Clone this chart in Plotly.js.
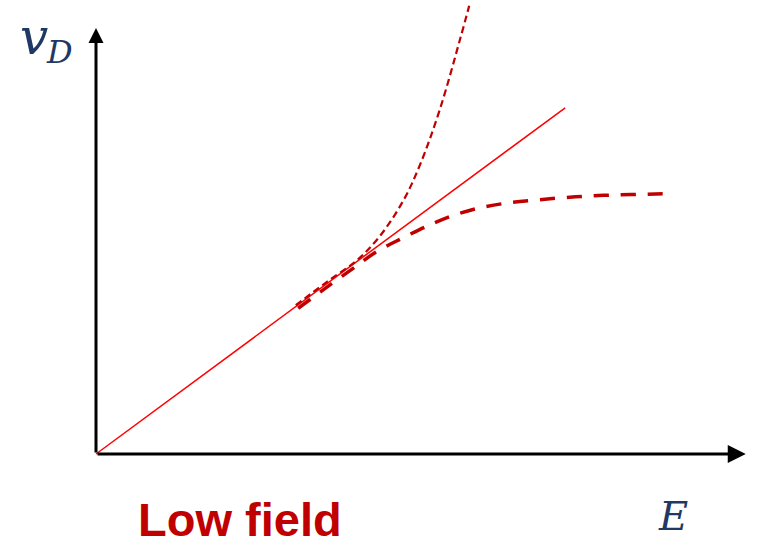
<!DOCTYPE html>
<html><head><meta charset="utf-8">
<script src="https://cdn.plot.ly/plotly-3.0.1.min.js"></script>
<style>html,body{margin:0;padding:0;background:#fff}#chart{width:760px;height:549px}</style>
</head><body><div id="chart"></div>
<script>
// Ohmic (linear) response
const linearE = [0, 7.82];
const linearV = [0, 5.77];
// Saturating drift velocity (thick dashed)
const satE = [3.37, 3.9, 4.32, 4.67, 5.07, 5.52, 5.93, 6.38, 6.83, 7.3, 7.75, 8.23, 8.7, 9.17, 9.52];
const satV = [2.43, 2.82, 3.12, 3.37, 3.58, 3.8, 3.97, 4.1, 4.18, 4.23, 4.27, 4.3, 4.32, 4.33, 4.34];
// Super-linear response (thin dashed)
const supE = [3.33, 3.85, 4.35, 4.73, 5.12, 5.4, 5.73, 6.07, 6.22];
const supV = [2.48, 2.87, 3.23, 3.63, 4.22, 4.82, 5.74, 6.92, 7.47];

const traces = [
  {x: linearE, y: linearV, mode: 'lines', line: {color: '#ff0000', width: 1.5}, hoverinfo: 'skip'},
  {x: satE, y: satV, mode: 'lines', line: {color: '#c00000', width: 3.5, dash: '15px,12px', shape: 'spline', smoothing: 0.8}, hoverinfo: 'skip'},
  {x: supE, y: supV, mode: 'lines', line: {color: '#c00000', width: 2.2, dash: '7px,4px', shape: 'spline', smoothing: 1}, hoverinfo: 'skip'}
];

const layout = {
  width: 760, height: 549,
  margin: {l: 0, r: 0, t: 0, b: 0},
  paper_bgcolor: '#fff', plot_bgcolor: '#fff',
  showlegend: false,
  xaxis: {range: [-1.6, 11.067], visible: false, fixedrange: true},
  yaxis: {range: [-1.583, 7.567], visible: false, fixedrange: true},
  annotations: [
    {x: 10.83, y: 0, ax: 0, ay: 0, xref: 'x', yref: 'y', axref: 'x', ayref: 'y', showarrow: true,
     arrowhead: 2, arrowsize: 1.2, arrowwidth: 3, arrowcolor: '#000', text: ''},
    {x: 0, y: 7.1, ax: 0, ay: 0, xref: 'x', yref: 'y', axref: 'x', ayref: 'y', showarrow: true,
     arrowhead: 2, arrowsize: 1.0, arrowwidth: 3, arrowcolor: '#000', text: ''},
    {text: '<b>Low field</b>', x: 240/760, y: 1-519/549, xref: 'paper', yref: 'paper', showarrow: false,
     font: {family: 'Liberation Sans, Arial', size: 47, color: '#c00000'}, xanchor: 'center', yanchor: 'middle'},
    {text: '<i>E</i>', x: 673/760, y: 1-516/549, xref: 'paper', yref: 'paper', showarrow: false,
     font: {family: 'DejaVu Serif', size: 40, color: '#1f3864'}, xanchor: 'center', yanchor: 'middle'},
    {text: '<i>v</i>', x: 34/760, y: 1-37/549, xref: 'paper', yref: 'paper', showarrow: false,
     font: {family: 'DejaVu Serif', size: 50, color: '#1f3864'}, xanchor: 'center', yanchor: 'middle'},
    {text: '<i>D</i>', x: 59/760, y: 1-52/549, xref: 'paper', yref: 'paper', showarrow: false,
     font: {family: 'DejaVu Serif', size: 32, color: '#1f3864'}, xanchor: 'center', yanchor: 'middle'}
  ]
};
Plotly.newPlot('chart', traces, layout, {staticPlot: true, displayModeBar: false});
</script></body></html>
